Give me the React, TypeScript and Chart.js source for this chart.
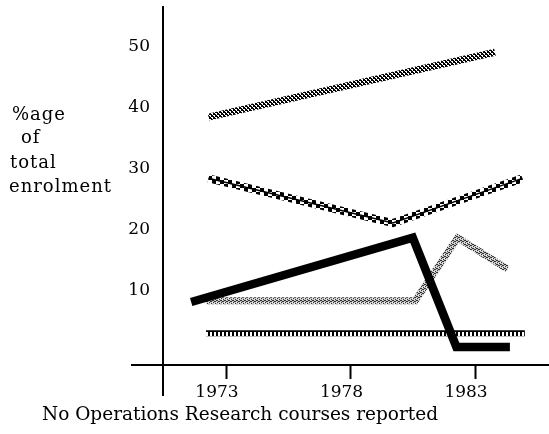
import React, { useEffect, useRef } from "react";
import { Chart, registerables } from "chart.js";

Chart.register(...registerables);

// ---- data ----
const X_TICKS = [1973, 1978, 1983];
const Y_TICKS = [10, 20, 30, 40, 50];

const TOP_YEARS = [1972.3, 1983.8];
const TOP_VALUES = [38.4, 49.0];

const WAVE_YEARS = [1972.3, 1979.7, 1984.9];
const WAVE_VALUES = [28.4, 21.1, 28.4];

const BLACK_YEARS = [1971.6, 1980.5, 1982.25, 1984.4];
const BLACK_VALUES = [8.2, 18.7, 0.85, 0.85];

const GRAY_YEARS = [1972.2, 1980.6, 1982.3, 1984.3];
const GRAY_VALUES = [8.4, 8.4, 18.7, 13.6];

const COMB_YEARS = [1972.2, 1985.0];
const COMB_VALUES = [3.1, 3.1];

const Y_LABEL_LINES = ["%age", "of", "total", "enrolment"];
const CAPTION = "No Operations Research courses reported";

// axis ranges
const X_MIN = 1970.47;
const X_MAX = 1985.97;
const Y_MIN = -2.1;
const Y_MAX = 56.4;

const FONT = "'DejaVu Serif', serif";

export default function App() {
  const ref = useRef<HTMLCanvasElement>(null);

  useEffect(() => {
    const canvas = ref.current!;
    const ctx = canvas.getContext("2d")!;

    const mk = (w: number, h: number, draw: (g: CanvasRenderingContext2D) => void) => {
      const c = document.createElement("canvas");
      c.width = w;
      c.height = h;
      const g = c.getContext("2d")!;
      draw(g);
      return ctx.createPattern(c, "repeat")!;
    };

    const grayPattern = mk(4, 4, (g) => {
      g.fillStyle = "#c4c4c4";
      g.fillRect(0, 0, 4, 4);
      g.fillStyle = "#333";
      [[0, 0], [2, 1], [1, 2], [3, 3], [3, 1], [1, 0]].forEach(([x, y]) => g.fillRect(x, y, 1, 1));
      g.fillStyle = "#eee";
      [[2, 3], [0, 2]].forEach(([x, y]) => g.fillRect(x, y, 1, 1));
    });

    const crossPattern = mk(4, 4, (g) => {
      g.fillStyle = "#fff";
      g.fillRect(0, 0, 4, 4);
      g.fillStyle = "#000";
      for (let x = 0; x < 4; x++) {
        for (let y = 0; y < 4; y++) {
          const d = (x - y + 8) % 4;
          if (d === 0 || d === 1 || (x + y) % 4 === 3) g.fillRect(x, y, 1, 1);
        }
      }
    });

    const checkPattern = mk(8, 8, (g) => {
      g.fillStyle = "#fff";
      g.fillRect(0, 0, 8, 8);
      g.fillStyle = "#000";
      g.fillRect(0, 0, 4, 4);
      g.fillRect(4, 4, 4, 4);
    });

    const combPattern = mk(4, 6, (g) => {
      g.fillStyle = "#000";
      g.fillRect(0, 0, 4, 2);
      g.fillRect(0, 2, 2, 4);
    });

    const pts = (xs: number[], ys: number[]) => xs.map((x, i) => ({ x, y: ys[i] }));

    const base = {
      pointRadius: 0,
      fill: false,
      tension: 0,
      borderCapStyle: "butt",
      borderJoinStyle: "miter",
    };

    const datasets: any[] = [
      { data: pts(BLACK_YEARS, BLACK_VALUES), borderColor: "#000", borderWidth: 8.5 },
      { data: pts(TOP_YEARS, TOP_VALUES), borderColor: crossPattern, borderWidth: 7 },
      { data: pts(WAVE_YEARS, WAVE_VALUES), borderColor: "#000", borderWidth: 1.5 },
      { data: pts(WAVE_YEARS, WAVE_VALUES), borderColor: checkPattern, borderWidth: 8 },
      { data: pts(COMB_YEARS, COMB_VALUES), borderColor: combPattern, borderWidth: 6 },
      { data: pts(GRAY_YEARS, GRAY_VALUES), borderColor: grayPattern, borderWidth: 7 },
    ].map((d) => ({ ...base, ...d }));

    const combAlign = {
      id: "combAlign",
      beforeDatasetsDraw(chart: any) {
        const y = chart.scales.y.getPixelForValue(COMB_VALUES[0]);
        combPattern.setTransform(new DOMMatrix().translate(0, Math.round(y) - 3));
      },
    };

    const axisExtensions = {
      id: "axisExtensions",
      afterDraw(chart: any) {
        const { left, bottom } = chart.chartArea;
        const c = chart.ctx;
        c.save();
        c.strokeStyle = "#000";
        c.lineWidth = 2;
        c.beginPath();
        c.moveTo(left, bottom);
        c.lineTo(left, bottom + 31);
        c.moveTo(left - 32, bottom);
        c.lineTo(left, bottom);
        c.stroke();
        c.restore();
      },
    };

    const chart = new Chart(ctx, {
      type: "line",
      data: { datasets },
      plugins: [combAlign, axisExtensions],
      options: {
        responsive: false,
        devicePixelRatio: 1,
        animation: false,
        events: [],
        layout: { padding: { top: 7, left: 0, right: 0, bottom: 0 } },
        plugins: {
          legend: { display: false },
          tooltip: { enabled: false },
          title: { display: false },
        },
        scales: {
          x: {
            type: "linear",
            min: X_MIN,
            max: X_MAX,
            afterBuildTicks: (s: any) => {
              s.ticks = X_TICKS.map((v) => ({ value: v }));
            },
            afterFit: (s: any) => {
              s.height = 69;
              s.paddingLeft = 0;
              s.paddingRight = 0;
            },
            grid: {
              display: true,
              drawOnChartArea: false,
              drawTicks: true,
              tickLength: 14,
              tickWidth: 2,
              tickColor: "#000",
            },
            border: { display: true, color: "#000", width: 2 },
            ticks: {
              color: "#000",
              font: { family: FONT, size: 17 },
              padding: 3,
              labelOffset: -9,
              maxRotation: 0,
              autoSkip: false,
              callback: (v: any) => String(v),
            },
          },
          y: {
            type: "linear",
            min: Y_MIN,
            max: Y_MAX,
            afterBuildTicks: (s: any) => {
              s.ticks = Y_TICKS.map((v) => ({ value: v }));
            },
            afterFit: (s: any) => {
              s.width = 163;
              s.paddingTop = 0;
              s.paddingBottom = 0;
            },
            grid: { display: false, drawTicks: false, tickLength: 0 },
            border: { display: true, color: "#000", width: 2 },
            ticks: {
              color: "#000",
              font: { family: FONT, size: 17 },
              padding: 13,
              callback: (v: any) => String(v),
            },
          },
        },
      } as any,
    });

    return () => chart.destroy();
  }, []);

  const lineLeft = [12, 21, 10, 9];
  const lineBaseline = [120, 143, 168, 192];
  const ySize = 18;

  return (
    <div style={{ position: "absolute", left: 0, top: 0, width: 549, height: 434, background: "#fff" }}>
      <canvas ref={ref} width={549} height={434} style={{ display: "block", width: 549, height: 434 }} />
      {Y_LABEL_LINES.map((t, i) => (
        <div
          key={t}
          style={{
            position: "absolute",
            left: lineLeft[i],
            top: lineBaseline[i] - Math.round(0.846 * ySize),
            fontFamily: FONT,
            fontSize: ySize,
            lineHeight: 1,
            letterSpacing: 1,
            whiteSpace: "nowrap",
            color: "#000",
          }}
        >
          {t}
        </div>
      ))}
      <div
        style={{
          position: "absolute",
          left: 42,
          top: 421 - Math.round(0.846 * 18.5),
          fontFamily: FONT,
          fontSize: 18.5,
          lineHeight: 1,
          whiteSpace: "nowrap",
          color: "#000",
        }}
      >
        {CAPTION}
      </div>
    </div>
  );
}
